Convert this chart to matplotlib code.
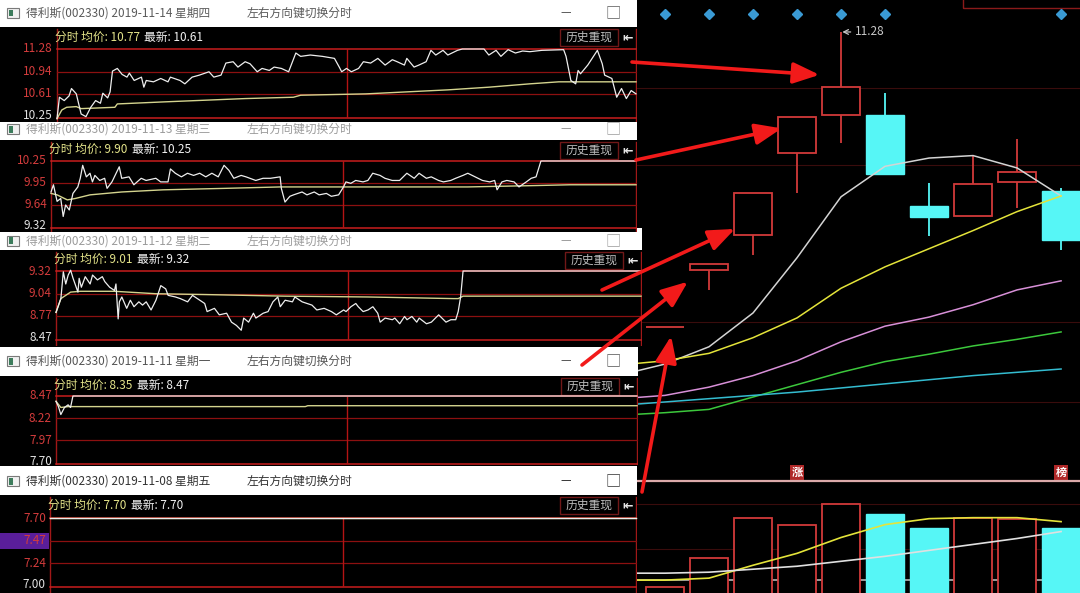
import matplotlib.pyplot as plt
from matplotlib.patches import Rectangle
import numpy as np

plt.rcParams['font.family'] = ['Noto Sans CJK SC', 'DejaVu Sans']

W, H = 1080, 593

# ---------------- intraday windows (newest on top) ----------------
stock = '得利斯(002330)'
dates = ['2019-11-14', '2019-11-13', '2019-11-12', '2019-11-11', '2019-11-08']
weekdays = ['星期四', '星期三', '星期二', '星期一', '星期五']
avg_price = ['10.77', '9.90', '9.01', '8.35', '7.70']
last_price = ['10.61', '10.25', '9.32', '8.47', '7.70']
axis_labels = [['11.28', '10.94', '10.61', '10.25'],
               ['10.25', '9.95', '9.64', '9.32'],
               ['9.32', '9.04', '8.77', '8.47'],
               ['8.47', '8.22', '7.97', '7.70'],
               ['7.70', '7.47', '7.24', '7.00']]
highlight_label = '7.47'

# minute (0-240), price
m1114_price = [(0, 10.24), (1, 10.56), (3, 10.51), (5, 10.58), (6, 10.69), (8, 10.61), (10, 10.31), (12, 10.27),
               (14, 10.41), (16, 10.51), (18, 10.47), (19, 10.62), (21, 10.55), (22, 10.64), (23, 10.95), (25, 10.99),
               (27, 10.90), (29, 10.86), (30, 10.92), (32, 10.81), (35, 10.86), (36, 10.71), (37, 10.81), (40, 10.79),
               (43, 10.84), (46, 10.79), (47, 10.86), (51, 10.81), (53, 10.76), (56, 10.86), (59, 10.89), (63, 10.94),
               (65, 10.86), (68, 10.89), (70, 11.07), (73, 11.09), (75, 11.01), (78, 11.09), (80, 11.06), (83, 10.94),
               (85, 10.99), (88, 10.96), (90, 11.01), (93, 10.99), (96, 10.94), (99, 11.22), (101, 11.17), (105, 11.19),
               (110, 11.17), (115, 11.14), (117, 11.01), (118, 10.94), (120, 10.99), (122, 10.94), (125, 10.99),
               (127, 11.09), (130, 11.07), (133, 11.14), (136, 11.04), (139, 11.12), (141, 11.09), (144, 11.04),
               (145, 11.14), (148, 11.01), (150, 11.04), (153, 11.09), (155, 11.26), (157, 11.19), (160, 11.26),
               (162, 11.19), (166, 11.26), (168, 11.28), (177, 11.28), (179, 11.19), (182, 11.26), (184, 11.17),
               (187, 11.27), (190, 11.22), (193, 11.25), (196, 11.24), (201, 11.26), (210, 11.27), (211, 11.17),
               (213, 10.81), (215, 10.76), (216, 10.96), (217, 10.91), (220, 11.04), (224, 11.26), (226, 11.06),
               (227, 10.89), (230, 10.84), (232, 10.56), (234, 10.69), (236, 10.54), (238, 10.66), (240, 10.61)]
m1114_avg = [(0, 10.24), (2, 10.37), (4, 10.41), (8, 10.42), (10, 10.39), (24, 10.41), (25, 10.46), (44, 10.49),
             (78, 10.54), (98, 10.56), (101, 10.59), (128, 10.61), (145, 10.64), (162, 10.67), (179, 10.71),
             (196, 10.76), (208, 10.79), (240, 10.79)]

m1113_price = [(0, 9.82), (1, 9.92), (2.5, 9.69), (4, 9.73), (5, 9.48), (6, 9.64), (7.5, 9.57), (9, 9.80), (11, 9.89),
               (12, 10.01), (13, 10.19), (14.5, 10.03), (16, 10.08), (17, 9.96), (18, 10.05), (20, 9.98), (22, 10.01),
               (23, 9.87), (25, 9.96), (28, 10.17), (29, 10.01), (32, 10.03), (34, 9.92), (37, 10.01), (39, 9.98),
               (43, 10.01), (45, 9.96), (48, 9.96), (49, 10.14), (51, 10.08), (53.5, 10.03), (56, 10.08), (58.5, 10.05),
               (61, 10.08), (63.5, 10.03), (66, 10.08), (68.6, 10.03), (71, 10.19), (73, 10.12), (75, 10.01), (78, 10.05),
               (80, 10.03), (84, 9.98), (87, 10.01), (90, 10.01), (94, 10.03), (94.5, 9.87), (96, 9.68), (98, 9.76),
               (99.5, 9.78), (103, 9.82), (105, 9.78), (108, 9.82), (110, 9.78), (113, 9.80), (115, 9.76), (118, 9.78),
               (120, 9.89), (121, 9.96), (123, 9.94), (125, 9.98), (128, 9.96), (130, 9.98), (132, 10.08), (135, 10.05),
               (137, 10.01), (140, 9.98), (143, 9.98), (146, 10.08), (149, 10.01), (151, 10.08), (154, 10.01),
               (156, 10.03), (159, 9.98), (161, 9.96), (164, 9.98), (166, 10.01), (169, 10.05), (171, 10.08),
               (174, 10.03), (177, 9.98), (180, 9.96), (182, 9.98), (183, 9.85), (185, 9.96), (187, 9.98), (190, 9.96),
               (192, 9.89), (195, 9.96), (197, 10.01), (199, 10.03), (201, 10.25), (240, 10.25)]
m1113_avg = [(0, 9.80), (2.5, 9.78), (6.7, 9.71), (10, 9.73), (16, 9.78), (29, 9.82), (46, 9.85), (71, 9.87),
             (94, 9.89), (120, 9.89), (146, 9.89), (171, 9.89), (200, 9.91), (213, 9.92), (240, 9.92)]

m1112_price = [(0, 8.81), (2, 8.98), (3, 9.31), (4, 9.16), (5, 9.27), (6, 9.33), (7, 9.23), (9, 9.06), (9.5, 9.23),
               (10.4, 9.12), (12, 9.25), (14, 9.16), (15, 9.27), (17, 9.21), (19, 9.25), (20, 9.19), (22, 9.12),
               (24, 9.08), (24.6, 9.16), (25.5, 8.73), (26, 8.94), (27, 9.00), (29, 8.86), (30.5, 8.96), (32, 8.88),
               (34, 8.94), (35.5, 8.90), (37, 8.94), (39, 8.84), (41, 8.96), (43, 9.14), (45, 9.10), (46, 9.02),
               (49, 9.00), (51, 8.98), (54, 8.94), (56, 9.02), (59, 8.96), (61, 8.92), (62, 8.82), (65, 8.86),
               (67, 8.78), (70, 8.80), (72, 8.69), (74, 8.65), (76, 8.59), (77, 8.74), (79, 8.69), (81, 8.80),
               (82, 8.74), (85, 8.80), (87, 8.82), (89, 8.94), (91, 9.00), (92, 8.88), (94, 8.96), (97, 8.94),
               (98, 9.00), (101, 8.94), (103, 8.92), (105, 8.90), (107, 8.84), (110, 8.86), (113, 8.82), (115, 8.78),
               (118, 8.84), (119, 8.82), (121, 8.88), (123, 8.92), (124, 8.88), (126, 8.82), (128, 8.84), (130, 8.88),
               (132, 8.80), (133, 8.69), (135, 8.74), (138, 8.72), (139, 8.74), (141, 8.67), (143, 8.76), (144, 8.72),
               (146, 8.76), (148, 8.69), (149, 8.74), (152, 8.67), (154, 8.69), (157, 8.78), (159, 8.72), (160, 8.69),
               (162, 8.72), (164, 8.72), (165, 8.82), (166, 9.00), (167, 9.32), (240, 9.32)]
m1112_avg = [(0, 8.81), (2, 8.98), (4, 9.02), (6, 9.06), (10, 9.07), (24, 9.07), (41, 9.04), (61, 9.03), (94, 9.01),
             (128, 9.00), (163, 8.98), (165, 8.98), (167, 9.01), (240, 9.01)]

m1111_price = [(0, 8.41), (1, 8.35), (2, 8.26), (3.5, 8.34), (5, 8.37), (6, 8.34), (7, 8.47), (240, 8.47)]
m1111_avg = [(0, 8.41), (2, 8.34), (5, 8.35), (103, 8.35), (104, 8.36), (240, 8.36)]

m1108_price = [(0, 7.70), (240, 7.70)]
m1108_avg = [(0, 7.70), (240, 7.70)]

minute_price = [m1114_price, m1113_price, m1112_price, m1111_price, m1108_price]
minute_avg = [m1114_avg, m1113_avg, m1112_avg, m1111_avg, m1108_avg]

# ---------------- daily K line (11-08 onwards) ----------------
k_open = [7.70, 8.39, 8.82, 9.81, 10.27, 10.27, 9.17, 9.05, 9.46, 9.35]
k_close = [7.70, 8.47, 9.32, 10.25, 10.61, 9.56, 9.03, 9.44, 9.58, 8.76]
k_high = [7.70, 8.47, 9.32, 10.25, 11.28, 10.54, 9.45, 9.78, 9.98, 9.39]
k_low = [7.70, 8.15, 8.57, 9.33, 9.93, 9.56, 8.80, 9.05, 9.14, 8.63]
signal_days = [0, 1, 2, 3, 4, 5, 9]
tag_days = [3, 9]
tag_text = ['涨', '榜']

# moving averages, first value is the day before 11-08
ma_x = list(range(-1, 10))
ma5 = [7.12, 7.25, 7.46, 7.87, 8.54, 9.28, 9.65, 9.75, 9.78, 9.63, 9.29]
ma10 = [7.24, 7.29, 7.38, 7.57, 7.81, 8.17, 8.43, 8.65, 8.87, 9.10, 9.29]
ma20 = [6.83, 6.87, 6.97, 7.11, 7.29, 7.52, 7.71, 7.82, 7.97, 8.15, 8.26]
ma30 = [6.63, 6.66, 6.70, 6.85, 7.00, 7.15, 7.28, 7.37, 7.47, 7.55, 7.64]
ma60 = [6.75, 6.79, 6.83, 6.87, 6.91, 6.96, 7.01, 7.06, 7.11, 7.15, 7.19]
price_grid = [10.60, 9.67, 7.76, 6.79]

vol = [1.3, 4.2, 8.3, 7.6, 9.7, 8.7, 7.3, 8.3, 8.2, 7.3]
vol_ma5 = [2.0, 2.0, 2.2, 3.5, 4.7, 6.3, 7.6, 8.2, 8.3, 8.3, 7.9]
vol_ma10 = [2.7, 2.7, 2.8, 3.1, 3.4, 3.9, 4.4, 5.0, 5.6, 6.2, 6.9]
vol_grid = [9.7, 5.1]
vol_ref = 2.0

# arrows: window edge (pixels) -> point next to a candle (day index, price)
arrow_tail = [(632, 62), (636, 160), (602, 290), (582, 365), (642, 492)]
arrow_tip = [(3.51, 10.76), (2.65, 10.11), (1.59, 8.89), (0.52, 8.25), (0.14, 7.59)]

# ---------------- layout in pixels ----------------
win_top = [0, 117, 228, 347, 466]
win_title_bot = [27, 140, 250, 376, 495]
win_bot = [122, 232, 346, 465, 593]
win_right = [637, 637, 642, 638, 637]
title_y = [13, 129, 241, 361, 481]
title_color = ['#5a5a5a', '#9c9c9c', '#9c9c9c', '#555555', '#333333']
plot_left = [57, 51, 56, 56, 50]
plot_top = [49, 161, 271, 396, 518]
plot_bot = [118, 228, 340, 464, 587]

RED = '#d23a3a'
CYAN = '#56f6f6'

fig = plt.figure(figsize=(W / 100, H / 100), dpi=100, facecolor='black')


def px_axes(x0, y0, x1, y1, z):
    ax = fig.add_axes([x0 / W, 1 - y1 / H, (x1 - x0) / W, (y1 - y0) / H])
    ax.set_zorder(z)
    return ax


# ---------------- K line chart ----------------
ax_c = px_axes(637, 0, W, 481, 0)
ax_c.set_facecolor('black')
ax_c.set_xlim(-0.636, 9.43)
ax_c.set_ylim(5.831, 11.668)
ax_c.axis('off')
for g in price_grid:
    ax_c.axhline(g, color='#3a0c0c', lw=0.8)

bw = 0.86
for i in range(len(k_open)):
    o, c, hi, lo = k_open[i], k_close[i], k_high[i], k_low[i]
    up = c >= o
    col = RED if up else CYAN
    b0, b1 = min(o, c), max(o, c)
    if hi > b1:
        ax_c.vlines(i, b1, hi, color=col, lw=1.3)
    if lo < b0:
        ax_c.vlines(i, lo, b0, color=col, lw=1.3)
    if b1 - b0 < 1e-6:
        ax_c.hlines(b0, i - bw / 2, i + bw / 2, color=col, lw=1.3)
    elif up:
        ax_c.add_patch(Rectangle((i - bw / 2, b0), bw, b1 - b0, fc='black', ec=col, lw=1.3, zorder=3))
    else:
        ax_c.add_patch(Rectangle((i - bw / 2, b0), bw, b1 - b0, fc=col, ec=col, lw=1, zorder=3))

ax_c.plot(ma_x, ma5, color='#d4d4d4', lw=1.1, zorder=4)
ax_c.plot(ma_x, ma10, color='#e4e43a', lw=1.1, zorder=4)
ax_c.plot(ma_x, ma20, color='#d890d8', lw=1.1, zorder=4)
ax_c.plot(ma_x, ma30, color='#3cc83c', lw=1.1, zorder=4)
ax_c.plot(ma_x, ma60, color='#34bcd0', lw=1.1, zorder=4)

ihi = int(np.argmax(k_high))
ax_c.annotate(f'{k_high[ihi]:.2f}', xy=(ihi + 0.03, k_high[ihi]), xytext=(9, 0), textcoords='offset points',
              va='center', ha='left', color='#c8c8c8', fontsize=8.5,
              arrowprops=dict(arrowstyle='->', color='#c8c8c8', lw=0.9, shrinkA=1, shrinkB=0))

ax_c.plot(signal_days, [0.971] * len(signal_days), 'D', color='#3a9ad4', ms=5.5,
          transform=ax_c.get_xaxis_transform(), clip_on=False)
for d, t in zip(tag_days, tag_text):
    ax_c.text(d, 0.017, t, transform=ax_c.get_xaxis_transform(), ha='center', va='center', color='white',
              fontsize=8, fontweight='bold', bbox=dict(boxstyle='square,pad=0.12', fc='#b02828', ec='none'))
ax_c.add_patch(Rectangle((0.735, 0.983), 0.3, 0.05, transform=ax_c.transAxes, fc='none', ec='#8a1a1a', lw=1,
                         clip_on=False))

# ---------------- volume ----------------
ax_v = px_axes(637, 481, W, H, 0)
ax_v.set_facecolor('black')
ax_v.set_xlim(-0.636, 9.43)
ax_v.set_ylim(0.7, 12.0)
ax_v.set_xticks([])
ax_v.set_yticks([])
for s in ['left', 'right', 'bottom']:
    ax_v.spines[s].set_visible(False)
ax_v.spines['top'].set_color('#dcaaaa')
ax_v.spines['top'].set_linewidth(1.6)
for g in vol_grid:
    ax_v.axhline(g, color='#3a0c0c', lw=0.8)
ax_v.axhline(vol_ref, color='#b4b4b4', lw=1.2)
for i, v in enumerate(vol):
    if k_close[i] >= k_open[i]:
        ax_v.add_patch(Rectangle((i - bw / 2, 0), bw, v, fc='black', ec=RED, lw=1.3, zorder=3))
    else:
        ax_v.add_patch(Rectangle((i - bw / 2, 0), bw, v, fc=CYAN, ec=CYAN, lw=1, zorder=3))
ax_v.plot(ma_x, vol_ma5, color='#e4e43a', lw=1.2, zorder=4)
ax_v.plot(ma_x, vol_ma10, color='#e0e0e0', lw=1.2, zorder=4)


# ---------------- intraday windows ----------------
def draw_window(k):
    top, tb, bot, right = win_top[k], win_title_bot[k], win_bot[k], win_right[k]
    x0, y0, y1 = plot_left[k], plot_top[k], plot_bot[k]
    z = 20 - 2 * k
    fa = px_axes(0, top, right, bot, z)
    fa.set_xlim(0, right)
    fa.set_ylim(bot, top)
    fa.axis('off')
    fa.add_patch(Rectangle((0, top), right, tb - top, fc='white', ec='none'))
    fa.add_patch(Rectangle((0, tb), right, bot - tb, fc='black', ec='none'))

    ty = title_y[k]
    tc = title_color[k]
    fa.add_patch(Rectangle((7, ty - 5), 12, 10, fc='#f0f0f0', ec='#7a7a7a', lw=0.8))
    fa.add_patch(Rectangle((8.5, ty - 3.5), 4, 7, fc='#3c7c5c', ec='none'))
    fa.text(26, ty, f'{stock} {dates[k]} {weekdays[k]}', color=tc, fontsize=8.5, va='center')
    fa.text(247, ty, '左右方向键切换分时', color=tc, fontsize=8.5, va='center')
    fa.text(566, ty, '—', color=tc, fontsize=8.5, va='center', ha='center')
    fa.text(613, ty, '□', color=tc, fontsize=11, va='center', ha='center')

    hy = (tb + y0) / 2 - 1
    h1 = fa.text(x0 - 2, hy, f'分时 均价: {avg_price[k]}', color='#e4e48a', fontsize=8.5, va='center')
    fa.annotate(f'最新: {last_price[k]}', xy=(1, 0.5), xycoords=h1, xytext=(3, 0), textcoords='offset points',
                va='center', color='#f2f2f2', fontsize=8.5)
    fa.add_patch(Rectangle((right - 77, tb + 2), 58, 17, fc='black', ec='#701818', lw=1))
    fa.text(right - 48, tb + 10.5, '历史重现', ha='center', va='center', color='#bcbcbc', fontsize=8.5)
    fa.text(right - 9, tb + 10.5, '⇤', ha='center', va='center', color='#e6e6e6', fontsize=9,
            fontweight='bold', family='DejaVu Sans')
    fa.plot([x0, x0], [tb + 2, bot], color='#a01818', lw=1)
    fa.plot([right - 1, right - 1], [tb + 2, bot], color='#a01818', lw=1)

    labels = axis_labels[k]
    hi, lo = float(labels[0]), float(labels[-1])
    if highlight_label in labels:
        yy = y0 + (hi - float(highlight_label)) / (hi - lo) * (y1 - y0)
        fa.add_patch(Rectangle((0, yy - 8), x0 - 1, 16, fc='#5a1e9a', ec='none'))

    ax = px_axes(x0, y0, right - 1, y1, z + 1)
    ax.set_xlim(0, 240)
    ax.set_ylim(lo, hi)
    ax.axis('off')
    for j, lab in enumerate(labels):
        edge = j in (0, len(labels) - 1)
        last = j == len(labels) - 1
        ax.axhline(float(lab), color='#c81e1e' if edge else '#8c1010', lw=1.1 if edge else 0.9, clip_on=False)
        ax.annotate(lab, xy=(0, float(lab)), xycoords=ax.get_yaxis_transform(), xytext=(-3, 2 if last else 0),
                    textcoords='offset points', ha='right', va='center', fontsize=8.5,
                    color='#e2e2e2' if last else '#d43c3c', annotation_clip=False)
    ax.axvline(120, color='#b41414', lw=1)
    pa = minute_avg[k]
    ax.plot([p[0] for p in pa], [p[1] for p in pa], color='#d4d48e', lw=1.0, clip_on=False)
    pp = minute_price[k]
    ax.plot([p[0] for p in pp], [p[1] for p in pp], color='#eeeeee', lw=0.9, clip_on=False)


for k in range(len(dates)):
    draw_window(k)

# ---------------- red arrows on top ----------------
ov = fig.add_axes([0, 0, 1, 1])
ov.set_zorder(50)
ov.set_xlim(0, W)
ov.set_ylim(H, 0)
ov.axis('off')
for tail, tip in zip(arrow_tail, arrow_tip):
    dx, dy = ax_c.transData.transform(tip)
    ov.annotate('', xy=(dx, H - dy), xytext=tail,
                arrowprops=dict(arrowstyle='-|>,head_length=0.8,head_width=0.32', color='#f21a1a', lw=2.6,
                                mutation_scale=20, shrinkA=0, shrinkB=0))

fig.savefig('out.png', dpi=100, facecolor='black')
